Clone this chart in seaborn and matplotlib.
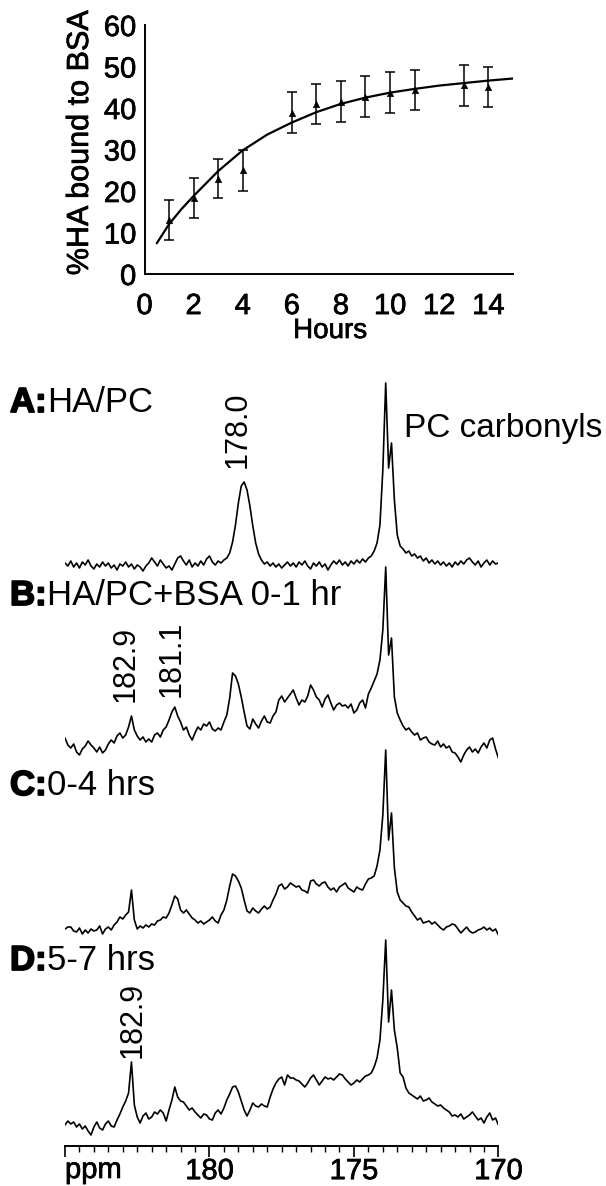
import numpy as np
import pandas as pd
import seaborn as sns
import matplotlib.pyplot as plt
import matplotlib.patheffects as pe
from matplotlib.ticker import MultipleLocator

# ---- top panel: % HA bound to BSA vs time ----
hours = [1, 2, 3, 4, 6, 7, 8, 9, 10, 11, 13, 14]
pct_bound = [13.0, 18.4, 23.0, 25.0, 38.9, 41.0, 41.5, 42.7, 43.7, 44.3, 45.5, 45.0]
pct_err = [4.9, 4.8, 4.8, 4.9, 4.9, 4.9, 4.9, 4.9, 4.9, 4.9, 4.9, 4.8]

fit_hours = [0.5, 1, 1.5, 2, 3, 4, 5, 6, 7, 8, 9, 10, 11, 12, 13, 14, 15]
fit_pct = [7.4, 12.0, 15.6, 18.8, 24.8, 29.8, 33.6, 36.5, 39.0, 41.0, 42.5,
           43.7, 44.6, 45.4, 46.0, 46.6, 47.1]

# ---- 13C spectra, intensity sampled every 0.1 ppm from 185.0 to 170.0 ----
ppm = np.round(np.linspace(185.0, 170.0, 151), 1)

spec_a = [7, 4, 9, 3, 7, 2, 8, 5, 10, 4,
          1, 6, 3, 8, 4, 7, 2, 5, 0, 6,
          4, 8, 3, 6, 1, 5, 3, -1, 4, 7,
          12, 8, 4, 10, 6, 2, 4, 0, 6, 12,
          14, 9, 5, 10, 3, 7, 4, 9, 5, 11,
          14, 8, 5, 9, 7, 10, 12, 17, 28, 45,
          67, 84, 88, 80, 64, 44, 27, 16, 10, 6,
          8, 4, 7, 3, 6, 2, 5, 8, 4, 7,
          3, 8, 5, 9, 4, 1, 7, 4, 8, 3,
          6, 0, 5, 9, 6, 10, 5, 8, 4, 9,
          6, 10, 7, 11, 8, 12, 14, 19, 27, 45,
          100, 187, 102, 127, 70, 35, 24, 21, 17, 19,
          14, 16, 12, 14, 9, 12, 7, 10, 6, 9,
          5, 8, 4, 7, 3, 8, 5, 9, 6, 10,
          12, 8, 5, 9, 3, 7, 10, 5, 9, 6,
          7]

spec_b = [22, 15, 12, 16, 8, 5, 11, 14, 19, 15,
          12, 8, 13, 7, 10, 16, 20, 17, 24, 27,
          22, 25, 33, 44, 30, 24, 20, 23, 18, 21,
          18, 25, 27, 23, 30, 33, 40, 48, 53, 44,
          38, 30, 33, 25, 20, 27, 33, 30, 36, 34,
          38, 31, 29, 32, 30, 38, 45, 62, 87, 84,
          76, 63, 48, 34, 31, 41, 36, 32, 39, 44,
          38, 37, 44, 48, 60, 64, 58, 62, 66, 70,
          62, 55, 60, 58, 64, 75, 70, 63, 60, 53,
          61, 65, 57, 50, 55, 57, 54, 55, 52, 56,
          47, 50, 57, 60, 52, 66, 72, 79, 86, 100,
          130, 193, 105, 122, 63, 47, 40, 34, 30, 32,
          28, 25, 27, 20, 22, 23, 18, 16, 15, 19,
          13, 16, 12, 14, 8, 7, 3, -2, 5, 10,
          13, 8, 11, 7, 13, 17, 12, 20, 22, 11,
          2]

spec_c = [11, 13, 13, 9, 8, 12, 6, 10, 7, 11,
          9, 10, 14, 6, 11, 13, 10, 15, 18, 23,
          21, 25, 28, 50, 20, 11, 14, 12, 15, 13,
          16, 15, 19, 20, 23, 22, 27, 35, 44, 41,
          30, 27, 30, 26, 22, 20, 17, 19, 16, 18,
          20, 23, 19, 17, 25, 30, 40, 54, 66, 64,
          59, 52, 40, 29, 27, 32, 29, 27, 31, 34,
          31, 33, 40, 46, 54, 56, 51, 53, 57, 55,
          53, 54, 50, 49, 47, 59, 60, 56, 54, 57,
          58, 53, 50, 52, 48, 53, 55, 57, 52, 50,
          48, 53, 51, 50, 56, 61, 62, 64, 74, 90,
          125, 190, 100, 127, 72, 48, 40, 37, 34, 33,
          28, 24, 20, 22, 17, 18, 19, 16, 18, 15,
          12, 10, 13, 14, 16, 15, 11, 7, 10, 13,
          9, 7, 8, 10, 11, 13, 10, 12, 9, 11,
          5]

spec_d = [10, 14, 11, 13, 8, 11, 6, 9, 4, 0,
          8, 13, 7, 5, 11, 14, 9, 8, 15, 21,
          28, 34, 42, 73, 30, 18, 12, 19, 22, 16,
          18, 23, 21, 25, 22, 14, 25, 35, 48, 38,
          34, 33, 29, 25, 27, 23, 20, 17, 21, 20,
          16, 15, 22, 25, 21, 27, 35, 41, 48, 49,
          43, 34, 25, 19, 25, 32, 29, 28, 31, 29,
          28, 38, 46, 52, 56, 58, 50, 60, 57, 57,
          55, 54, 51, 48, 52, 57, 60, 55, 50, 54,
          58, 56, 57, 55, 58, 61, 60, 56, 53, 50,
          52, 55, 53, 56, 59, 60, 62, 68, 77, 95,
          135, 195, 113, 145, 105, 87, 62, 58, 47, 42,
          40, 38, 36, 39, 34, 35, 37, 33, 31, 29,
          30, 27, 25, 23, 19, 20, 18, 21, 16, 18,
          20, 23, 19, 15, 17, 12, 18, 22, 15, 17,
          10]

spectra = [spec_a, spec_b, spec_c, spec_d]
spectrum_names = ["A", "B", "C", "D"]

sns.set_theme(style="white")
plt.rcParams["font.family"] = ["Liberation Sans", "DejaVu Sans"]
plt.rcParams["axes.linewidth"] = 1.4
plt.rcParams["text.color"] = "black"
plt.rcParams["axes.labelcolor"] = "black"
plt.rcParams["xtick.color"] = "black"
plt.rcParams["ytick.color"] = "black"

# slight stroke to mimic the heavier print face of the original
heavy = [pe.withStroke(linewidth=0.5, foreground="black")]
heavier = [pe.withStroke(linewidth=1.3, foreground="black")]

W, H = 606, 1186
fig = plt.figure(figsize=(W / 100, H / 100), dpi=100)


def fx(x):
    return x / W


def fy(y):
    return 1 - y / H


# ---------------- top panel ----------------
ax1 = fig.add_axes([fx(144.5), fy(274), 368.3 / W, 249 / H])
fit_df = pd.DataFrame({"hours": fit_hours, "pct": fit_pct})
sns.lineplot(data=fit_df, x="hours", y="pct", color="black", lw=1.6, ax=ax1, sort=False)
ax1.errorbar(hours, pct_bound, yerr=pct_err, fmt="none", ecolor="black",
             elinewidth=1.1, capsize=3.5, capthick=1.1)
pts = pd.DataFrame({"hours": hours, "pct": pct_bound})
sns.scatterplot(data=pts, x="hours", y="pct", marker="^", s=22, color="black",
                edgecolor="black", ax=ax1, zorder=5)
ax1.set_xlim(0, 15)
ax1.set_ylim(0, 60)
ax1.set_xticks(range(0, 15, 2))
ax1.set_yticks(range(0, 61, 10))
ax1.tick_params(direction="in", length=3, width=1, labelsize=21, colors="black",
                labelcolor="black")
ax1.tick_params(axis="x", pad=13)
ax1.tick_params(axis="y", pad=6)
for lbl in ax1.get_xticklabels() + ax1.get_yticklabels():
    lbl.set_path_effects(heavy)
for s in ["top", "right"]:
    ax1.spines[s].set_visible(False)
for s in ["left", "bottom"]:
    ax1.spines[s].set_color("black")
ax1.set_xlabel("")
ax1.set_ylabel("")
fig.text(fx(80), fy(143), "%HA bound to BSA", rotation=90, ha="center", va="center",
         fontsize=22, color="black", path_effects=heavy)
fig.text(fx(330), fy(318), "Hours", ha="center", va="top", fontsize=20, color="black",
         path_effects=heavy)

# ---------------- spectra ----------------
ax2 = fig.add_axes([fx(65), fy(1146), 433.4 / W, 776 / H])
offsets = [576, 386, 206, 11]
for name, sig, off in zip(spectrum_names, spectra, offsets):
    df = pd.DataFrame({"ppm": ppm, "sig": np.array(sig) + off})
    sns.lineplot(data=df, x="ppm", y="sig", color="black", lw=1.2, ax=ax2, sort=False)
ax2.set_xlim(185, 170)
ax2.set_ylim(0, 776)
ax2.set_xlabel("")
ax2.set_ylabel("")
ax2.set_yticks([])
for s in ["top", "right", "left"]:
    ax2.spines[s].set_visible(False)
ax2.spines["bottom"].set_color("black")
ax2.set_xticks([185, 180, 175, 170])
ax2.set_xticklabels(["", "180", "175", "170"])
ax2.xaxis.set_minor_locator(MultipleLocator(0.5))
ax2.tick_params(axis="x", which="major", direction="out", length=8, width=1.2,
                labelsize=21, pad=0, colors="black", labelcolor="black", bottom=True)
ax2.tick_params(axis="x", which="minor", direction="out", length=4, width=1,
                colors="black", bottom=True)
for lbl in ax2.get_xticklabels():
    lbl.set_path_effects(heavy)
fig.text(fx(65), fy(1178), "ppm", ha="left", va="baseline", fontsize=21, color="black",
         path_effects=heavy)

# panel labels: bold letter then regular text
renderer = fig.canvas.get_renderer()
panel_labels = [("A:", "HA/PC", 412), ("B:", "HA/PC+BSA 0-1 hr", 605),
                ("C:", "0-4 hrs", 795), ("D:", "5-7 hrs", 970)]
for bold, rest, yb in panel_labels:
    t = fig.text(fx(10), fy(yb), bold, fontsize=25, fontweight="bold",
                 ha="left", va="baseline", color="black", path_effects=heavier)
    bb = t.get_window_extent(renderer=renderer)
    fig.text(bb.x1 / W, fy(yb), rest, fontsize=25, ha="left", va="baseline",
             color="black")

fig.text(fx(404), fy(437), "PC carbonyls", fontsize=24, ha="left", va="baseline",
         color="black")

# rotated peak labels (center x px, bottom y px)
peak_labels = [("178.0", 238, 468), ("182.9", 126, 702), ("181.1", 172, 697),
               ("182.9", 133, 1058)]
for txt, cx, yb in peak_labels:
    fig.text(fx(cx), fy(yb), txt, rotation=90, fontsize=22, ha="center",
             va="bottom", color="black")

fig.savefig("out.png", dpi=100)
